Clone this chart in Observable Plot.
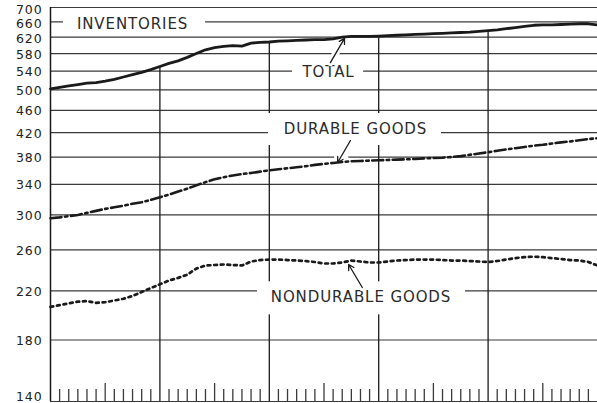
<!DOCTYPE html>
<html><head><meta charset="utf-8">
<script src="https://cdn.jsdelivr.net/npm/d3@7"></script>
<script src="https://cdn.jsdelivr.net/npm/@observablehq/plot@0.6"></script>
<style>body{margin:0;background:#fff} svg{display:block}</style>
</head><body><div id="chart"></div>
<script>
// month index 0..60 (five years of monthly data)
const months = d3.range(0, 61);
const total = [502,505,508,511,514,515,518,522,527,532, 537,543,550,557,563,571,580,589,594,597,
  599,598,605,607,608,610,611,612,613,614, 614,616,620,622,622,622,623,624,625,626,
  627,628,629,630,631,632,633,635,637,639, 642,645,648,651,652,652,653,654,655,655,652];
const durable = [296,297,298.5,300,302.5,305,307.5,309.5,311.5,314, 316,319,322.5,326,330,334,338.5,343,347,350,
  352.5,354.5,356,358,360,361.5,363,364.5,366,368, 369.5,371,372.5,373.5,374,374.5,375,375.5,376,376.5,
  377,378,378.5,379,380,381.5,383.5,385.5,387.5,390, 392,394,396,398,399.5,401.5,403.5,405,407,409,410.5];
const nondurable = [206,207.5,209,210.5,211,209.5,210,211.5,213,215.5, 219,222.5,226,229.5,232,235,241,244,244.5,245,
  244.5,244,248,249.5,250,250,249.5,249,248.5,247.5, 246,246,247,249,248,247,247,248,249,249.5,
  250,250,250,249.5,249,249,248.5,248,247.5,248.5, 250,251.5,252.5,253,252.5,251.5,250.5,249.5,249,247.5,244];
const yTicks = [140,180,220,260,300,340,380,420,460,500,540,580,620,660,700];
const yearMonths = [12,24,36,48];
const midYearMonths = [6,18,30,42,54];
const labelText = ["INVENTORIES","TOTAL","DURABLE GOODS","NONDURABLE GOODS"];
const labelMonth = [9.0, 30.5, 33.45, 34.06];
const labelValue = [660, 540, 420, 220];
const arrowFromMonth = [30.7, 32.9, 34.2];
const arrowFromValue = [559, 406.6, 223];
const arrowToMonth = [32.25, 31.5, 32.7];
const arrowToValue = [617, 371.7, 245];

const ink = "#1a1a1a", grid = "#3a3a3a";
const plotH = 403 - 7 - 2;
const monthTicks = months.filter(m => m > 0 && m < 60 && !yearMonths.includes(m) && !midYearMonths.includes(m));
const labels = labelText.map((t, i) => ({t, m: labelMonth[i], v: labelValue[i]}));
const arrows = arrowFromMonth.map((m, i) => ({m1: m, v1: arrowFromValue[i], m2: arrowToMonth[i], v2: arrowToValue[i]}));
// label box paddings (px) and text offsets: layout only
const boxLayout = [
  {l: 69, r: 73, t: 9.6, b: 12.4, dy: 2},
  {l: 36, r: 35, t: 10, b: 12, dy: 1},
  {l: 87, r: 86, t: 19, b: 13, dy: -3.5},
  {l: 103.5, r: 104.5, t: 9, b: 24, dy: 6.5}
];

const labelMarks = labels.flatMap((d, i) => {
  const b = boxLayout[i];
  return [
    Plot.rect([d], {x1: "m", x2: "m", y1: "v", y2: "v", fill: "white",
      insetLeft: -b.l, insetRight: -b.r, insetTop: -b.t, insetBottom: -b.b}),
    Plot.text([d], {x: "m", y: "v", text: "t", fill: "#2a2a2a", fontSize: 15, dy: b.dy, textAnchor: "middle"})
  ];
});

const tickFont = 12.5;
const tickOpts = {tickSize: 0, tickPadding: 8, fontSize: tickFont, label: null, fill: "#222", style: {letterSpacing: "1.3px"}};
const chart = Plot.plot({
  width: 597, height: 403,
  marginLeft: 50, marginRight: 0, marginTop: 7, marginBottom: 2,
  x: {domain: [0, 60], axis: null},
  y: {type: "log", domain: [140, 700], axis: null},
  style: {fontFamily: "DejaVu Sans", background: "white", letterSpacing: "0.9px"},
  marks: [
    Plot.ruleY(yTicks, {stroke: grid, strokeWidth: 1.2}),
    Plot.ruleX([0], {stroke: ink, strokeWidth: 1.5}),
    Plot.ruleX(yearMonths, {x: d => d, y1: d => total[d], y2: 140, stroke: ink, strokeWidth: 1.3}),
    Plot.ruleX(monthTicks, {x: d => d, insetTop: plotH - 12, stroke: grid, strokeWidth: 1.3}),
    Plot.ruleX(midYearMonths, {x: d => d, insetTop: plotH - 18, stroke: grid, strokeWidth: 1.3}),
    ...labelMarks,
    Plot.arrow(arrows, {x1: "m1", y1: "v1", x2: "m2", y2: "v2", stroke: "white", strokeWidth: 7, headLength: 7}),
    Plot.line(months, {x: d => d, y: d => nondurable[d], stroke: ink, strokeWidth: 2.7, strokeDasharray: "2.8,3.8"}),
    Plot.line(months, {x: d => d, y: d => durable[d], stroke: ink, strokeWidth: 2.6, strokeDasharray: "11,3.5,2.5,3.5"}),
    Plot.line(months, {x: d => d, y: d => total[d], stroke: ink, strokeWidth: 2.8}),
    Plot.arrow(arrows, {x1: "m1", y1: "v1", x2: "m2", y2: "v2", stroke: ink, strokeWidth: 1.3, headLength: 7}),
    Plot.axisY(yTicks.filter(v => v < 620 && v > 140), {...tickOpts, dy: 1}),
    Plot.axisY([620], {...tickOpts, dy: 2}),
    Plot.axisY([660], {...tickOpts, dy: 2.5}),
    Plot.axisY([700], {...tickOpts, dy: 2}),
    Plot.axisY([140], {...tickOpts, dy: -5})
  ]
});
document.getElementById("chart").append(chart);
</script>
</body></html>
